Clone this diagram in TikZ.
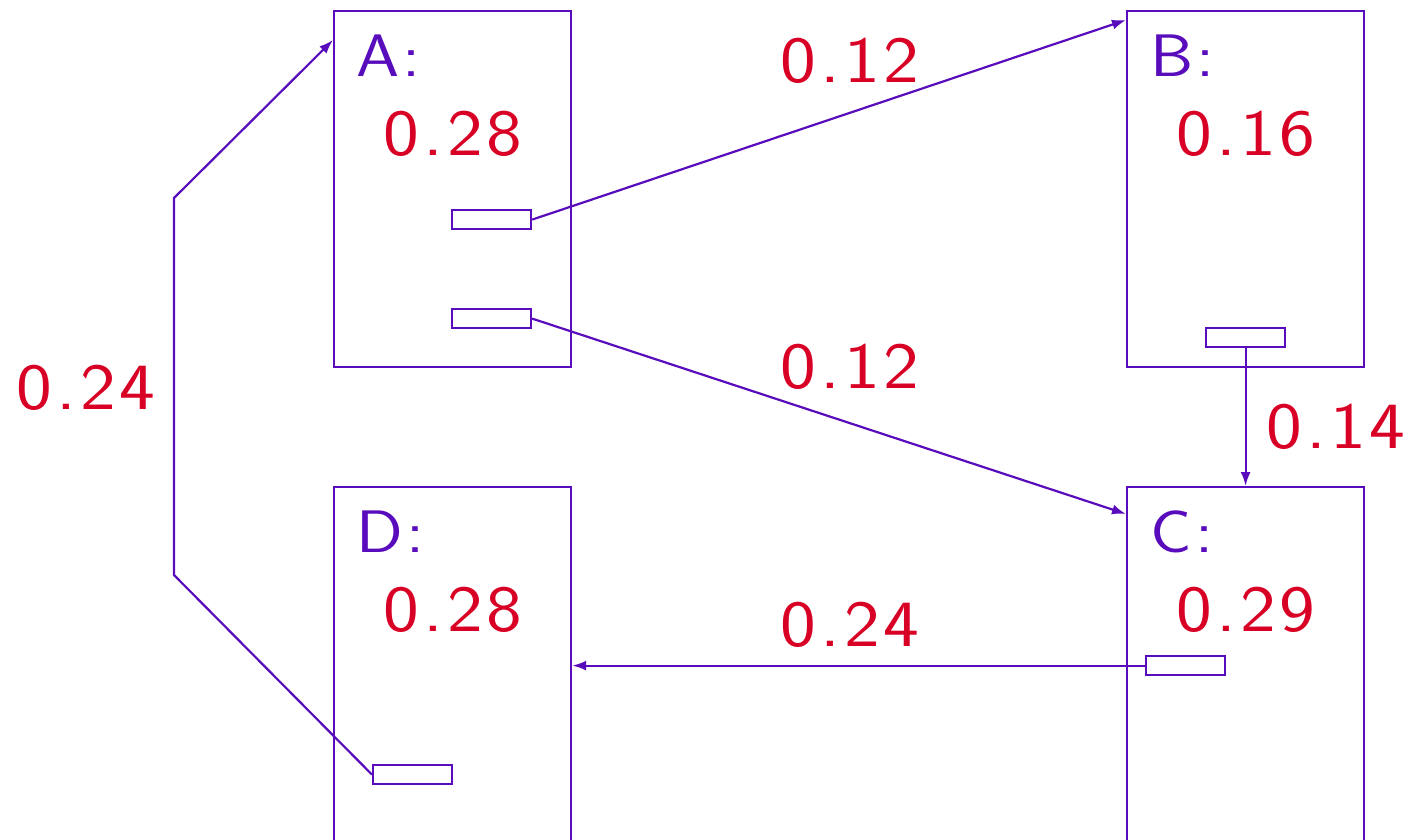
\documentclass[tikz,border=0pt]{standalone}
\usepackage{fontspec}
\newfontfamily\labfont{Latin Modern Sans}[FakeStretch=1.15,LetterSpace=6]
\usetikzlibrary{arrows.meta,calc}
\definecolor{pur}{RGB}{88,12,188}
\definecolor{num}{RGB}{216,0,36}
\tikzset{
  bigbox/.style={draw=pur,line width=2.2pt,minimum width=237pt,inner sep=0pt,anchor=north west},
  port/.style={draw=pur,line width=2.2pt,minimum width=79pt,minimum height=19pt,inner sep=0pt,anchor=north west},
  wire/.style={draw=pur,line width=2.2pt,-{Latex[length=14pt,width=10pt]}},
  boxlbl/.style={text=pur,font=\labfont\fontsize{60}{60}\selectfont,anchor=base west,inner sep=0pt},
  val/.style={text=num,font=\labfont\fontsize{66}{66}\selectfont,anchor=center,inner sep=0pt}
}
\begin{document}
\begin{tikzpicture}[x=1pt,y=-1pt]
\clip (0,0) rectangle (1410,839);
% main boxes
\node[bigbox,minimum height=356pt] (A) at (333,10) {};
\node[bigbox,minimum height=356pt] (B) at (1126,10) {};
\node[bigbox,minimum height=420pt] (C) at (1126,486) {};
\node[bigbox,minimum height=420pt] (D) at (333,486) {};
% ports
\node[port] (A1) at (451,209) {};
\node[port] (A2) at (451,308) {};
\node[port] (B1) at (1205,327) {};
\node[port] (C1) at (1145,655) {};
\node[port] (D1) at (372,764) {};
% names
\node[boxlbl] (nA) at (356,76) {A:};
\node[boxlbl] (nB) at (1150,76) {B:};
\node[boxlbl] (nC) at (1150,552) {C:};
\node[boxlbl] (nD) at (356,552) {D:};
% values
\node[val] (vA) at (453,134) {0.28};
\node[val] (vB) at (1246,134) {0.16};
\node[val] (vC) at (1246,610) {0.29};
\node[val] (vD) at (453,610) {0.28};
% connectors
\coordinate (tB) at ($(B.north west)+(0,10)$);
\coordinate (tC) at ($(C.north west)+(0,28)$);
\coordinate (tA) at ($(A.north west)+(0,30)$);
\coordinate (k1) at (174,575);
\coordinate (k2) at (174,198);
\draw[wire] (A1.east) -- (tB);
\draw[wire] (A2.east) -- (tC);
\draw[wire] (B1.south) -- (B1.south |- C.north);
\draw[wire] (C1.west) -- (C1.west -| D.east);
\draw[wire] (D1.west) -- (k1) -- (k2) -- (tA);
% edge labels
\node[val] (l1) at (850,61) {0.12};
\node[val] (l2) at (850,367) {0.12};
\node[val] (l3) at (1336,427) {0.14};
\node[val] (l4) at (850,625) {0.24};
\node[val] (l5) at (86,388) {0.24};
\end{tikzpicture}
\end{document}
